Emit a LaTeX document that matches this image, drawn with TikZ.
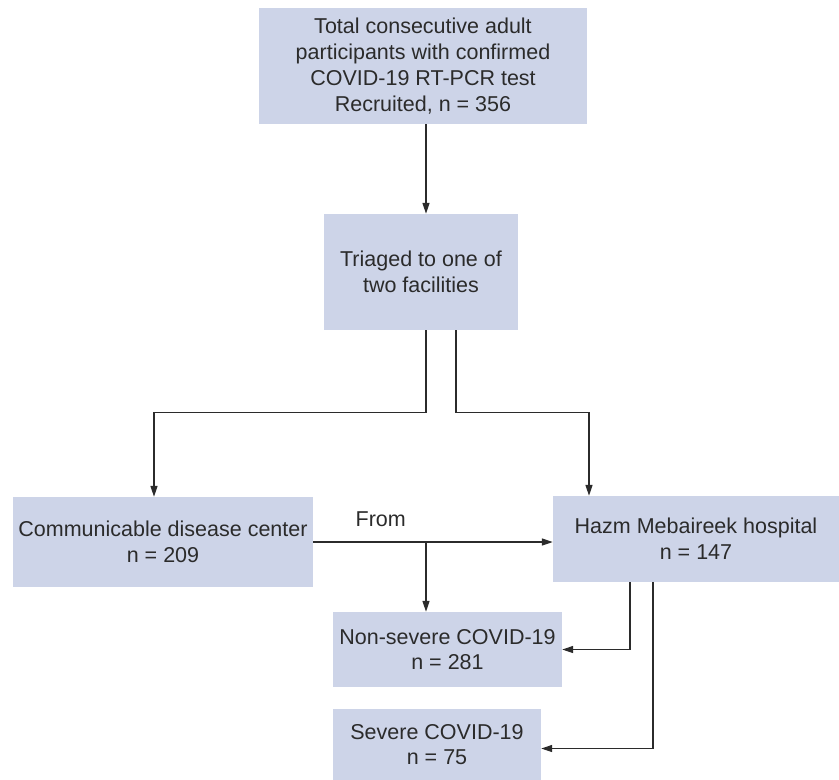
\documentclass[tikz,border=0pt]{standalone}
\usepackage{fontspec}
\setmainfont{Liberation Sans}
\usepackage{tikz}
\usetikzlibrary{
    arrows.meta,
    positioning,
    calc
}
\definecolor{boxfill}{HTML}{CDD4E8}
\definecolor{inkgrey}{HTML}{2B2B2B}
\tikzset{
    box/.style={
        rectangle,
        fill=boxfill,
        align=center,
        inner sep=0pt,
        text=inkgrey,
        font=\fontsize{21.5}{25.8}\selectfont
    },
    flow/.style={
        -{Triangle[length=11pt,width=7pt]},
        draw=inkgrey,
        line width=1.2pt
    }
}

\begin{document}
\begin{tikzpicture}[x=1pt,y=-1pt]
        \useasboundingbox (0,0) rectangle (839,780);

        % Recruitment
        \node [box, minimum width=328pt, minimum height=116pt] (total) at (423,66) {
            Total consecutive adult\\
            participants with confirmed\\
            COVID-19 RT-PCR test\\
            Recruited, n = 356
        };

        % Triage
        \node [box, minimum width=194pt, minimum height=116pt] (triage) at (421,272) {
            Triaged to one of\\
            two facilities
        };

        % Facilities
        \node [box, minimum width=300pt, minimum height=90pt] (cdc) at (163,542) {
            Communicable disease center\\
            n = 209
        };
        \node [box, minimum width=286pt, minimum height=86pt] (hazm) at (696,539) {
            Hazm Mebaireek hospital\\
            n = 147
        };

        % Outcomes
        \node [box, minimum width=229pt, minimum height=75pt] (nonsevere) at (447.5,649.5) {
            Non-severe COVID-19\\
            n = 281
        };
        \node [box, minimum width=208pt, minimum height=71pt] (severe) at (437,744.5) {
            Severe COVID-19\\
            n = 75
        };

        % Arrows
        \draw [flow] ([xshift=3pt]total.south) -- ([xshift=5pt]triage.north);
        \draw [flow] ([xshift=5pt]triage.south) -- ++(0,82) -| ([xshift=-9pt]cdc.north);
        \draw [flow] ([xshift=35pt]triage.south) -- ++(0,82) -| ([xshift=-107pt]hazm.north);

        % Transfer between facilities
        \draw [flow] (cdc.east) -- (cdc.east -| hazm.west);
        \coordinate (split) at ([xshift=5pt]triage.south |- cdc.east);
        \node [text=inkgrey, font=\fontsize{21.5}{25.8}\selectfont, above left=15pt and 20pt of split, inner sep=0pt] (from) {From};
        \draw [flow] (split) -- (split |- nonsevere.north);

        % Hospital outcomes
        \draw [flow] ([xshift=-66pt]hazm.south) |- (nonsevere.east);
        \draw [flow] ([xshift=-43pt]hazm.south) |- ([yshift=-4pt]severe.east);
    \end{tikzpicture}
\end{document}
